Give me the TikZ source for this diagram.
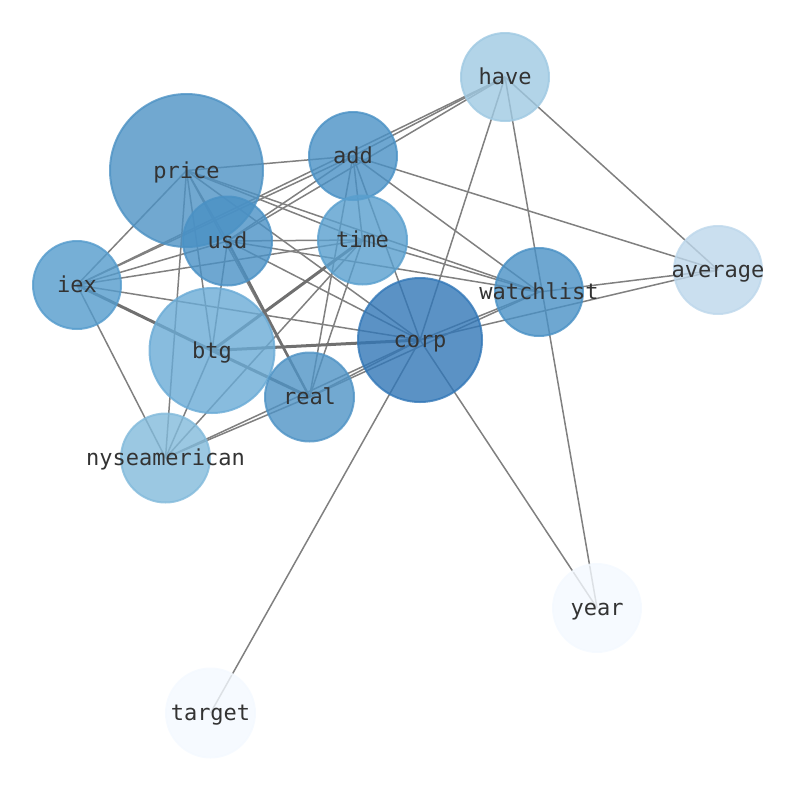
\documentclass[tikz,border=0pt]{standalone}
\usepackage{fontspec}
\setmonofont{DejaVu Sans Mono}
\pgfdeclarelayer{edges}
\pgfsetlayers{edges,main}
\definecolor{cprice}{RGB}{77,146,196}
\definecolor{cadd}{RGB}{74,145,197}
\definecolor{cusd}{RGB}{74,145,197}
\definecolor{ctime}{RGB}{89,159,206}
\definecolor{ciex}{RGB}{84,155,204}
\definecolor{cwatch}{RGB}{74,145,197}
\definecolor{ccorp}{RGB}{50,119,183}
\definecolor{cbtg}{RGB}{106,171,214}
\definecolor{creal}{RGB}{79,147,197}
\definecolor{cnyse}{RGB}{130,186,219}
\definecolor{chave}{RGB}{159,201,226}
\definecolor{caverage}{RGB}{189,215,235}
\definecolor{cyear}{RGB}{244,249,255}
\definecolor{ctarget}{RGB}{244,249,255}
\definecolor{edgegray}{RGB}{128,128,128}
\definecolor{thickgray}{RGB}{112,112,112}
\tikzset{
  vtx/.style 2 args={circle, minimum size=#1, inner sep=0pt, line width=2pt,
    fill=#2, draw=#2, fill opacity=0.8, draw opacity=0.8, text opacity=1},
  lbl/.style={font=\ttfamily\fontsize{22}{22}\selectfont, text=black!80,
    text height=17pt, text depth=2pt, inner sep=0pt, text opacity=1, fill opacity=1},
  edge/.style={draw=edgegray, line width=1.5pt},
  thick edge/.style={draw=thickgray, line width=3pt},
  mid edge/.style={draw=thickgray, line width=2.4pt}
}
\begin{document}
\begin{tikzpicture}[x=1pt,y=-1pt]
\useasboundingbox (0,0) rectangle (794,790);
\node[vtx={153pt}{cprice}, label={[lbl]center:price}] (price) at (186.5,170.5) {};
\node[vtx={88pt}{cadd}, label={[lbl]center:add}] (add) at (353,156) {};
\node[vtx={88pt}{chave}, label={[lbl]center:have}] (have) at (505,77) {};
\node[vtx={89pt}{cusd}, label={[lbl]center:usd}] (usd) at (227.5,241) {};
\node[vtx={89pt}{ctime}, label={[lbl]center:time}] (time) at (362.5,240) {};
\node[vtx={88pt}{ciex}, label={[lbl]center:iex}] (iex) at (77,285) {};
\node[vtx={88pt}{caverage}, label={[lbl]center:average}] (average) at (718,270) {};
\node[vtx={88pt}{cwatch}, label={[lbl]center:watchlist}] (watchlist) at (539,292) {};
\node[vtx={124pt}{ccorp}, label={[lbl]center:corp}] (corp) at (420,340) {};
\node[vtx={125pt}{cbtg}, label={[lbl]center:btg}] (btg) at (212,350.5) {};
\node[vtx={89pt}{creal}, label={[lbl]center:real}] (real) at (309.5,397) {};
\node[vtx={89pt}{cnyse}, label={[lbl]center:nyseamerican}] (nyse) at (165.5,458) {};
\node[vtx={88pt}{cyear}, label={[lbl]center:year}] (year) at (597,608) {};
\node[vtx={89pt}{ctarget}, label={[lbl]center:target}] (target) at (210.5,713) {};
\begin{pgfonlayer}{edges}
\foreach \a/\b in {price/add, price/iex, price/usd, price/time, price/watchlist,
  price/corp, price/btg, price/real, price/nyse,
  add/have, add/average, add/watchlist, add/time, add/corp, add/real, add/usd, add/iex,
  have/iex, have/usd, have/corp, have/year, have/average,
  usd/time, usd/watchlist, usd/corp, usd/iex, usd/btg,
  time/iex, time/watchlist, time/real, time/nyse,
  iex/corp, iex/nyse,
  watchlist/average, watchlist/corp, watchlist/real,
  corp/real, corp/nyse, corp/average, corp/year, corp/target,
  btg/nyse, real/nyse}
  {\draw[edge] (\a.center) -- (\b.center);}
\foreach \a/\b in {iex/btg, btg/real, btg/time, btg/corp}
  {\draw[thick edge] (\a.center) -- (\b.center);}
\draw[mid edge] (usd.center) -- (real.center);
\end{pgfonlayer}
\end{tikzpicture}
\end{document}
